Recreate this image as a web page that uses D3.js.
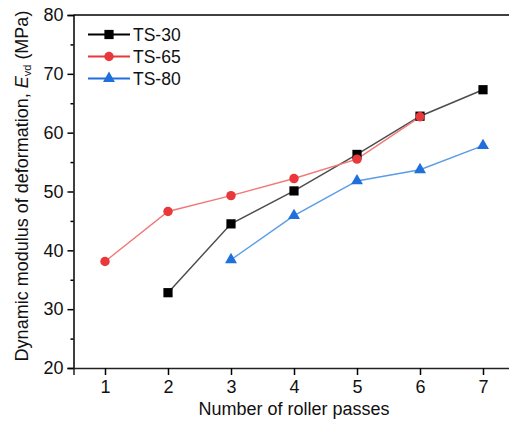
<!DOCTYPE html>
<html><head><meta charset="utf-8">
<script src="https://cdn.jsdelivr.net/npm/d3@7"></script>
<style>
html,body{margin:0;padding:0;background:#fff;}
svg{display:block;font-family:"Liberation Sans",Arial,sans-serif;}
</style></head>
<body>
<svg id="chart" width="509" height="424"></svg>
<script>
const passes = [1, 2, 3, 4, 5, 6, 7];
const seriesNames = ["TS-30", "TS-65", "TS-80"];
const ts30 = [null, 32.8, 44.5, 50.1, 56.3, 62.8, 67.3];
const ts65 = [38.1, 46.6, 49.3, 52.2, 55.5, 62.7, null];
const ts80 = [null, null, 38.4, 45.9, 51.8, 53.7, 57.8];
const yTicks = [20, 30, 40, 50, 60, 70, 80];
const yMinor = [25, 35, 45, 55, 65, 75];
const xLabel = "Number of roller passes";

const svg = d3.select("#chart");
const W = 509, H = 424;
const x = d3.scaleLinear().domain([0.5, 7.5]).range([73.5, 514.5]);
const y = d3.scaleLinear().domain([20, 80]).range([368, 15]);

const styles = [
  {line: "#4d4d4d", fill: "#000000", shape: d3.symbolSquare, size: 85},
  {line: "#f07a7a", fill: "#e8383b", shape: d3.symbolCircle, size: 70},
  {line: "#5b9de6", fill: "#1f6fdc", shape: d3.symbolTriangle, size: 62}
];
const data = [ts30, ts65, ts80];

// axes
const yAxis = d3.axisLeft(y).tickValues(yTicks).tickSize(6).tickPadding(4).tickFormat(d3.format("d"));
const gy = svg.append("g").attr("transform", `translate(${x.range()[0]},0)`).call(yAxis);
gy.select(".domain").attr("stroke", "#000").attr("stroke-width", 1.5);
gy.selectAll(".tick line").attr("stroke", "#000").attr("stroke-width", 1.5);
gy.selectAll(".tick text").attr("font-size", 18).attr("fill", "#111").attr("font-family", "Liberation Sans, Arial, sans-serif");
const gym = svg.append("g").attr("transform", `translate(${x.range()[0]},0)`)
  .call(d3.axisLeft(y).tickValues(yMinor).tickSize(3).tickFormat(""));
gym.select(".domain").remove();
gym.selectAll(".tick line").attr("stroke", "#000").attr("stroke-width", 1.5);

const xAxis = d3.axisBottom(x).tickValues(passes).tickSize(7).tickPadding(5).tickFormat(d3.format("d"));
const gx = svg.append("g").attr("transform", `translate(0,${y.range()[0]})`).call(xAxis);
gx.select(".domain").attr("stroke", "#222").attr("stroke-width", 1.5);
gx.selectAll(".tick line").attr("stroke", "#000").attr("stroke-width", 1.5);
gx.selectAll(".tick text").attr("font-size", 18).attr("fill", "#111").attr("font-family", "Liberation Sans, Arial, sans-serif");

// top border
svg.append("line").attr("x1", x.range()[0]).attr("x2", W)
  .attr("y1", y.range()[1]).attr("y2", y.range()[1])
  .attr("stroke", "#000").attr("stroke-width", 1.5);

// lines and markers
data.forEach((vals, i) => {
  const pts = passes.map((p, j) => ({p, v: vals[j]})).filter(d => d.v != null);
  const st = styles[i];
  svg.append("path").datum(pts)
    .attr("fill", "none").attr("stroke", st.line).attr("stroke-width", 1.5)
    .attr("d", d3.line().x(d => x(d.p)).y(d => y(d.v)));
});
data.forEach((vals, i) => {
  const pts = passes.map((p, j) => ({p, v: vals[j]})).filter(d => d.v != null);
  const st = styles[i];
  svg.append("g").selectAll("path").data(pts).join("path")
    .attr("transform", d => `translate(${x(d.p)},${y(d.v)})`)
    .attr("d", d3.symbol().type(st.shape).size(st.size))
    .attr("fill", st.fill);
});

// legend
const lg = svg.append("g");
seriesNames.forEach((name, i) => {
  const st = styles[i];
  const ly = 34.5 + i * 22;
  lg.append("line").attr("x1", 88).attr("x2", 130).attr("y1", ly).attr("y2", ly)
    .attr("stroke", i === 0 ? "#000" : st.fill).attr("stroke-width", 2);
  lg.append("path").attr("transform", `translate(109,${ly})`)
    .attr("d", d3.symbol().type(st.shape).size(st.size)).attr("fill", st.fill);
  lg.append("text").attr("x", 133).attr("y", ly + 6).attr("font-size", 17.5)
    .attr("fill", "#111").text(name);
});

// axis titles
svg.append("text").attr("x", 294).attr("y", 415).attr("text-anchor", "middle")
  .attr("font-size", 18).attr("fill", "#111").text(xLabel);

const yt = svg.append("text").attr("transform", "translate(28,186) rotate(-90)")
  .attr("text-anchor", "middle").attr("font-size", 18).attr("fill", "#111");
yt.append("tspan").text("Dynamic modulus of deformation, ");
yt.append("tspan").attr("font-style", "italic").text("E");
yt.append("tspan").attr("font-size", 11).attr("dy", 3).text("vd");
yt.append("tspan").attr("dy", -3).text(" (MPa)");
</script>
</body></html>
